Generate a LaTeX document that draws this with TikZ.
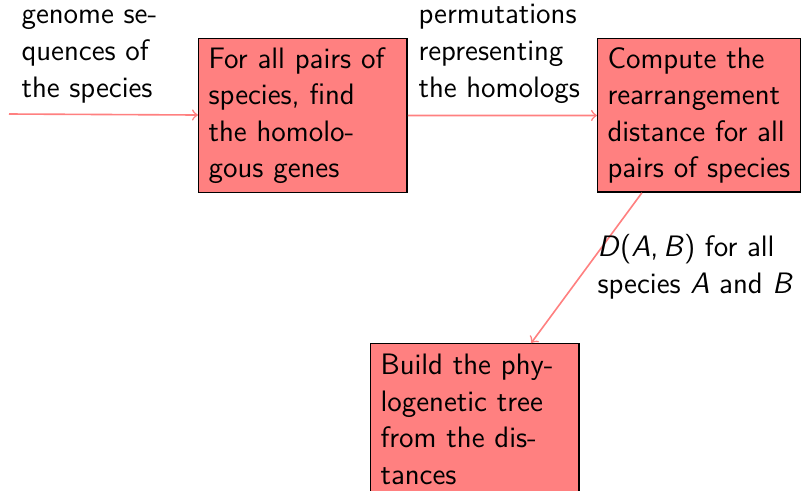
\documentclass[tikz,border=0pt]{standalone}
\begin{document}
\begin{tikzpicture}[x=0.372pt,y=-0.372pt,
  every node/.style={font=\sffamily\fontsize{11}{13.6}\selectfont,
    execute at begin node={\hyphenpenalty=10000\exhyphenpenalty=10000}},
  stepbox/.style={draw=black, line width=0.5pt, fill=red!50, align=left,
    anchor=north west, inner xsep=3.67pt, inner ysep=3.2pt,
    text width=70.2pt, minimum height=56.4pt},
  lbl/.style={align=left, anchor=base west, inner sep=0pt},
  flow/.style={draw=red!50, line width=0.6pt, ->}]
\useasboundingbox (0,0) rectangle (804,490);

% processing steps
\node[stepbox] (homol) at (198,38)
  {For~all~pairs~of\\species,~find\\the~homolo-\\gous~genes};
\node[stepbox, text width=68pt] (dist) at (597,38)
  {Compute~the\\rearrangement\\distance~for~all\\pairs~of~species};
\node[stepbox] (tree) at (370,343)
  {Build~the~phy-\\logenetic~tree\\from~the~dis-\\tances};

% data passed between the steps
\coordinate (src) at (9,114);
\draw[flow] (src) -- (homol);
\draw[flow] (homol) -- (dist);
\draw[flow] (dist) -- (tree);

% the base of a multi-line label is its last line
\node[lbl] (inlbl) at (21,97) {genome se-\\quences of\\the species};
\node[lbl] (permlbl) at (418,97) {permutations\\representing\\the homologs};
\node[lbl] (distlbl) at (597,293)
  {\textit{D}(\textit{A},\,\textit{B}) for all\\species \textit{A} and \textit{B}};
\end{tikzpicture}
\end{document}
